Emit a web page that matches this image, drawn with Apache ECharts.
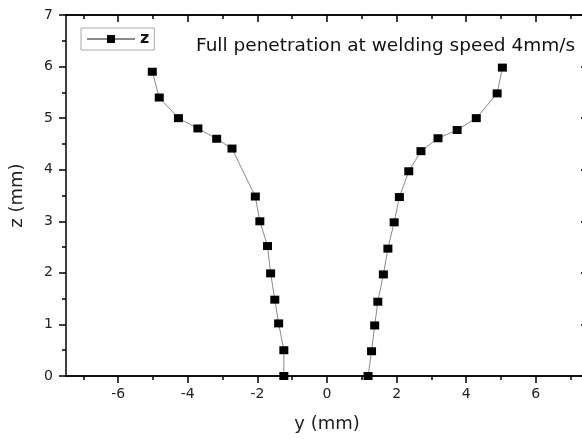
<!DOCTYPE html>
<html>
<head>
<meta charset="utf-8">
<script src="https://cdn.jsdelivr.net/npm/echarts@6/dist/echarts.min.js"></script>
<style>
  html, body { margin: 0; padding: 0; background: #fff; }
  #chart { width: 582px; height: 439px; }
</style>
</head>
<body>
<div id="chart"></div>
<script>
// data (y, z in mm)
const leftY = [-5.02, -4.82, -4.27, -3.71, -3.17, -2.73, -2.06, -1.93, -1.71, -1.62, -1.50, -1.39, -1.24, -1.24];
const leftZ = [5.90, 5.40, 5.00, 4.80, 4.60, 4.41, 3.48, 3.00, 2.52, 1.99, 1.48, 1.02, 0.50, 0];
const rightY = [1.18, 1.28, 1.37, 1.46, 1.62, 1.75, 1.93, 2.08, 2.35, 2.70, 3.19, 3.74, 4.29, 4.89, 5.04];
const rightZ = [0, 0.48, 0.98, 1.44, 1.97, 2.47, 2.98, 3.47, 3.97, 4.36, 4.61, 4.77, 5.00, 5.48, 5.98];
const xMajor = [-6, -4, -2, 0, 2, 4, 6];
const xMinor = [-7, -5, -3, -1, 1, 3, 5, 7];

const font = 'DejaVu Sans';
const axisColor = '#000';

const pairs = (xs, ys) => xs.map((v, i) => [v, ys[i]]);

// x axes: bottom major/minor, top major/minor
const xBase = {
  type: 'value', min: -7.5, max: 7.5,
  splitLine: { show: false },
  axisLine: { onZero: false, lineStyle: { color: axisColor, width: 1.5 } },
};
const xAxes = [
  Object.assign({}, xBase, {
    position: 'bottom',
    name: 'y (mm)', nameLocation: 'middle', nameGap: 39,
    nameTextStyle: { fontFamily: font, fontSize: 18, color: '#222' },
    axisTick: { inside: false, length: 7, customValues: xMajor, lineStyle: { color: axisColor, width: 1.5 } },
    axisLabel: { customValues: xMajor, margin: 11, fontFamily: font, fontSize: 14, color: '#222' }
  }),
  Object.assign({}, xBase, {
    position: 'bottom',
    axisTick: { inside: false, length: 4, customValues: xMinor, lineStyle: { color: axisColor, width: 1.5 } },
    axisLabel: { show: false }
  }),
  Object.assign({}, xBase, {
    position: 'top',
    axisTick: { inside: true, length: 7, customValues: xMajor, lineStyle: { color: axisColor, width: 1.5 } },
    axisLabel: { show: false }
  }),
  Object.assign({}, xBase, {
    position: 'top',
    axisTick: { inside: true, length: 4, customValues: xMinor, lineStyle: { color: axisColor, width: 1.5 } },
    axisLabel: { show: false }
  })
];

const yBase = {
  type: 'value', min: 0, max: 7, interval: 1,
  splitLine: { show: false },
  minorSplitLine: { show: false },
  axisLine: { show: true, onZero: false, lineStyle: { color: axisColor, width: 1.5 } },
};
const yAxes = [
  Object.assign({}, yBase, {
    position: 'left',
    name: 'z (mm)', nameLocation: 'middle', nameGap: 40, nameRotate: 90,
    nameTextStyle: { fontFamily: font, fontSize: 18, color: '#222' },
    axisTick: { show: true, inside: false, length: 7, lineStyle: { color: axisColor, width: 1.5 } },
    minorTick: { show: true, splitNumber: 2, length: 4, lineStyle: { color: axisColor, width: 1.5 } },
    axisLabel: { margin: 13, fontFamily: font, fontSize: 14, color: '#222' }
  }),
  Object.assign({}, yBase, {
    position: 'right',
    axisTick: { show: true, inside: true, length: 7, lineStyle: { color: axisColor, width: 1.5 } },
    minorTick: { show: true, splitNumber: 2, length: 4, lineStyle: { color: axisColor, width: 1.5 } },
    axisLabel: { show: false }
  })
];

const seriesBase = {
  type: 'line', name: 'z',
  xAxisIndex: 0, yAxisIndex: 0,
  symbol: 'rect', symbolSize: [9, 8],
  clip: false,
  itemStyle: { color: '#000' },
  lineStyle: { color: '#8a8a8a', width: 1 },
  emphasis: { disabled: true }
};

const chart = echarts.init(document.getElementById('chart'));
chart.setOption({
  animation: false,
  backgroundColor: '#fff',
  title: {
    text: 'Full penetration at welding speed 4mm/s',
    left: 196, top: 37, padding: 0,
    textStyle: { fontFamily: font, fontSize: 18.5, fontWeight: 'normal', color: '#111' }
  },
  legend: {
    left: 81, top: 28,
    padding: [3, 5],
    borderColor: '#aaa', borderWidth: 1,
    itemWidth: 48, itemHeight: 10, itemGap: 5,
    textStyle: { fontFamily: font, fontSize: 16, fontWeight: 'bold', color: '#111', padding: [0, 0, 0, 0] },
    data: ['z']
  },
  grid: { left: 66, top: 15, width: 522, height: 361, outerBoundsMode: 'none' },
  xAxis: xAxes,
  yAxis: yAxes,
  series: [
    Object.assign({}, seriesBase, { data: pairs(leftY, leftZ) }),
    Object.assign({}, seriesBase, { data: pairs(rightY, rightZ) })
  ]
});
</script>
</body>
</html>
